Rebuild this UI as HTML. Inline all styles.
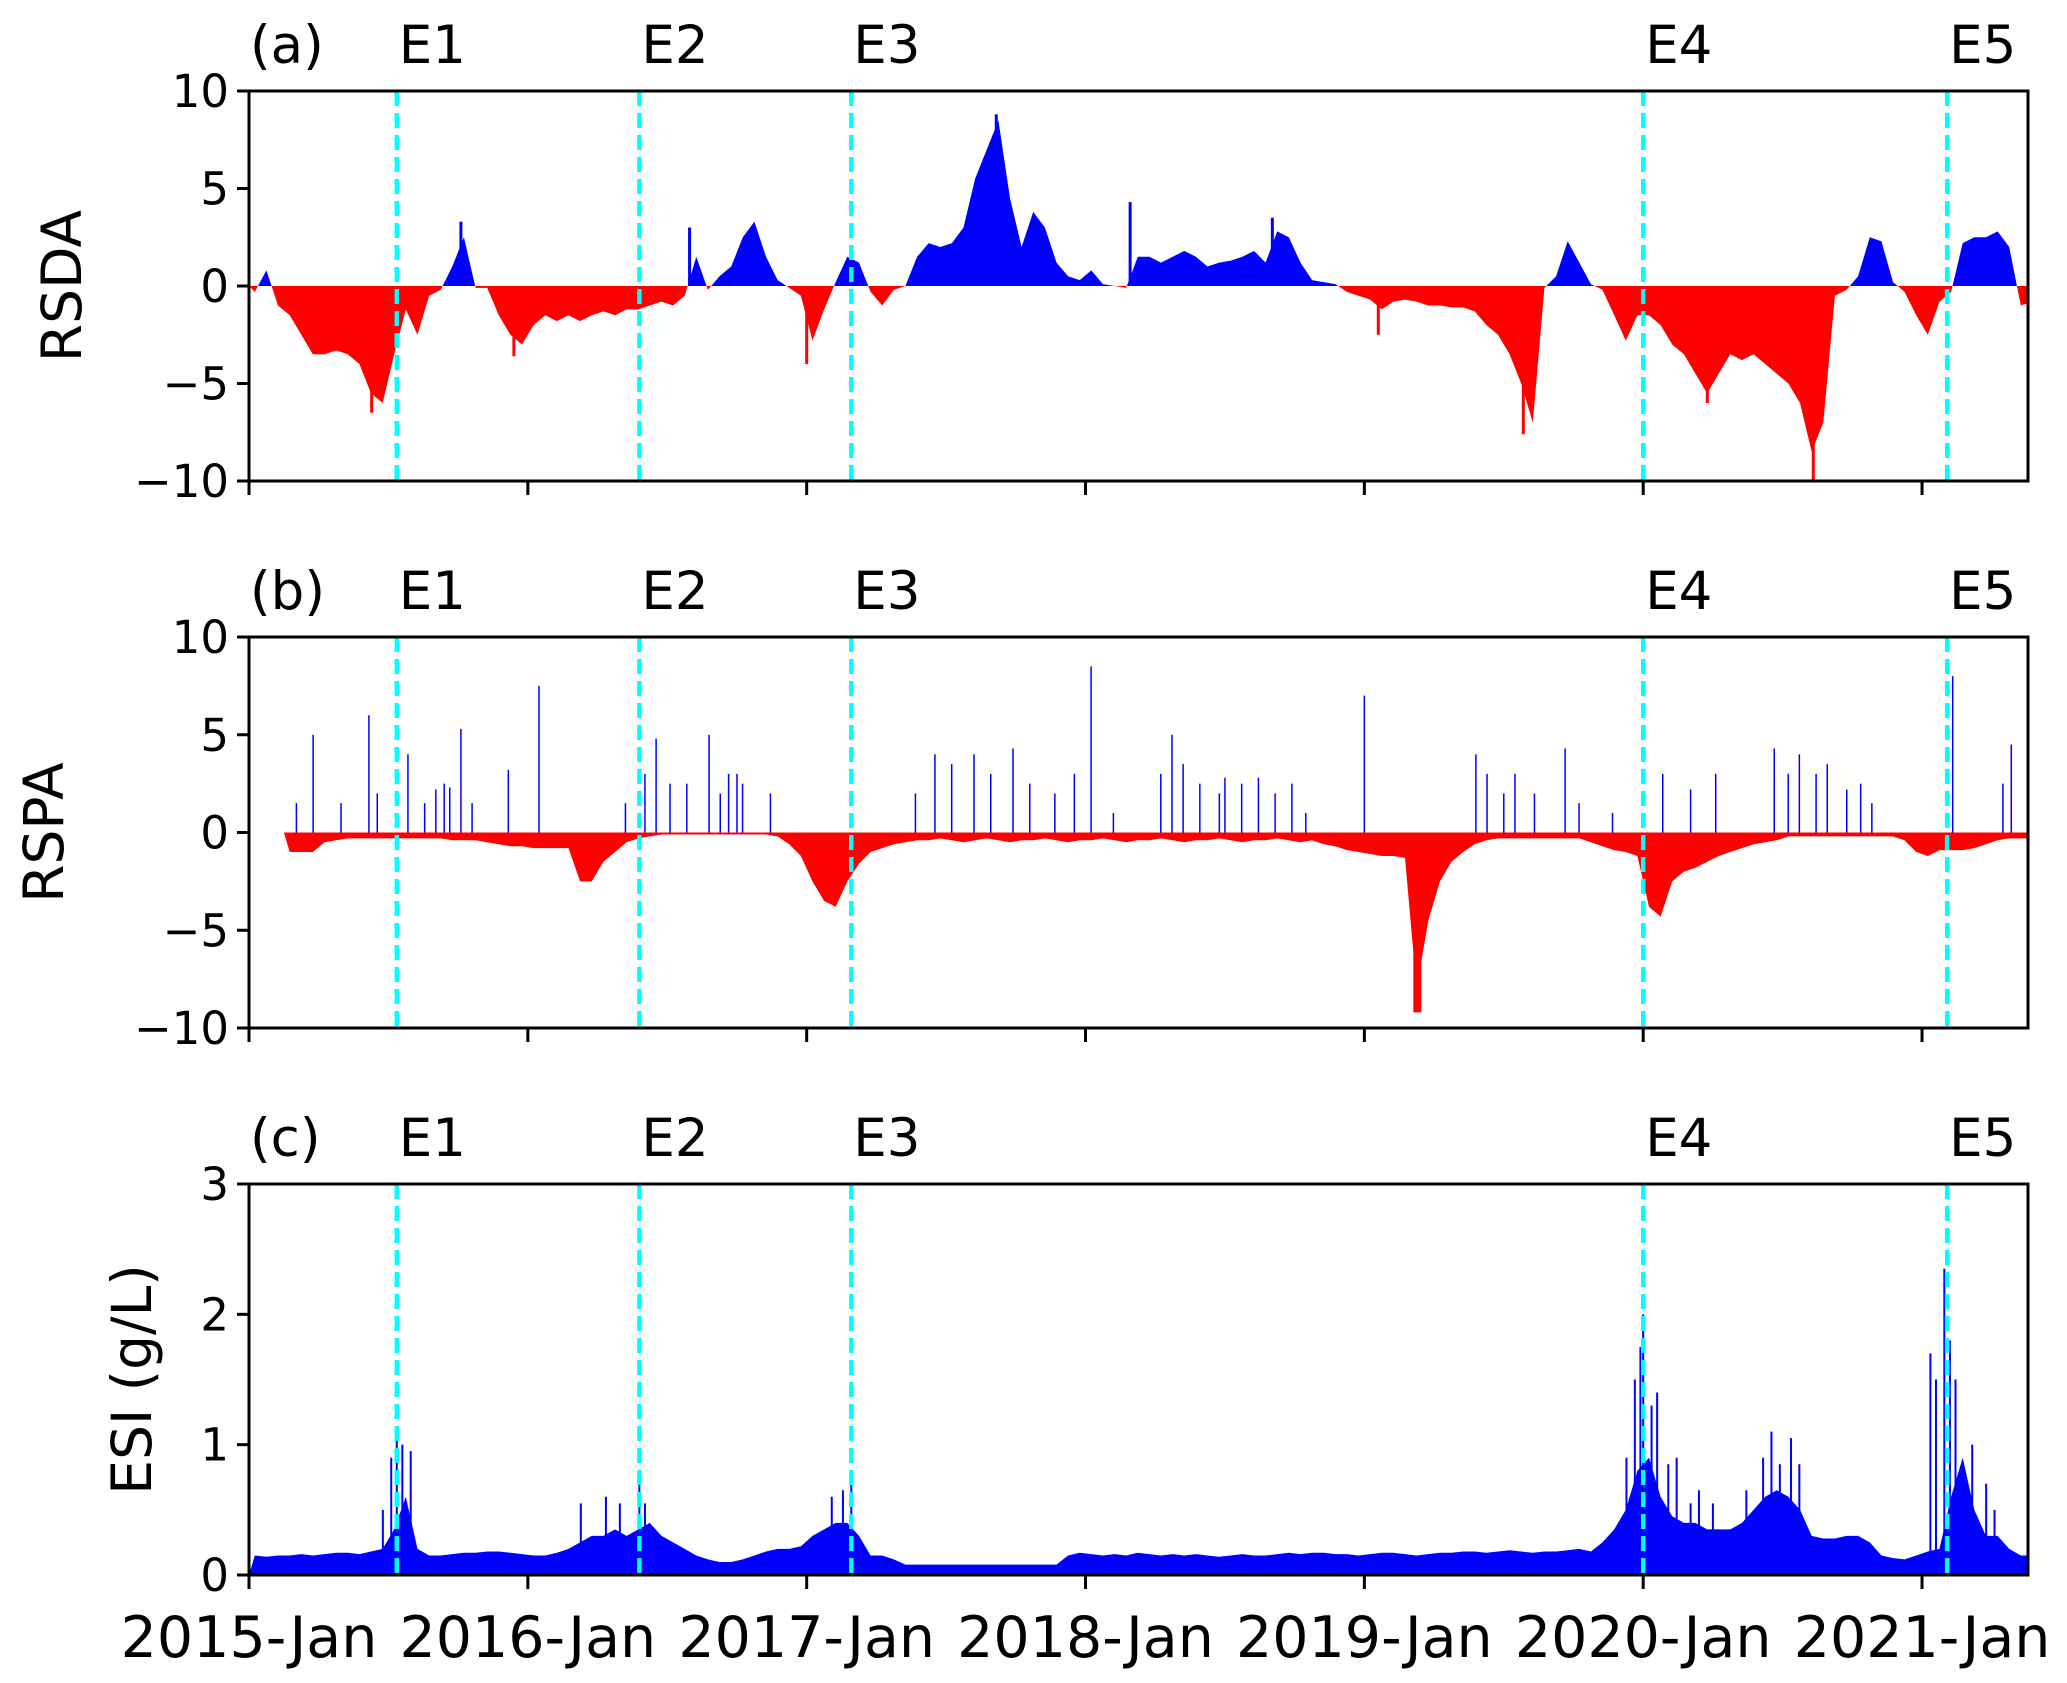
<!DOCTYPE html>
<html><head><meta charset="utf-8"><style>
html,body{margin:0;padding:0;background:#fff;}
svg{display:block;font-family:"DejaVu Sans","Liberation Sans",sans-serif;}
</style></head><body>
<svg id="chart" width="2067" height="1683" viewBox="0 0 2067 1683" xmlns="http://www.w3.org/2000/svg"></svg>
<script>
// ---------- data ----------
const startYear = 2015.0;
const stepYear = 1/24; // half-month sampling
const xTickLabels = ["2015-Jan","2016-Jan","2017-Jan","2018-Jan","2019-Jan","2020-Jan","2021-Jan"];
const xTickYears = [2015,2016,2017,2018,2019,2020,2021];
const eventNames = ["E1","E2","E3","E4","E5"];
const eventYears = [2015.53,2016.40,2017.16,2020.0,2021.09];
const panelLetters = ["(a)","(b)","(c)"];
const yLabels = ["RSDA","RSPA","ESI (g/L)"];
const yTicksAB = [-10,-5,0,5,10];
const yTicksC = [0,1,2,3];

const rsdaValues = [-0.3,0.8,-1,-1.5,-2.5,-3.5,-3.5,-3.3,-3.5,-4,-5.5,-6,-3.5,-1.2,-2.5,-0.5,-0.2,1,2.5,-0.1,
-0.1,-1.5,-2.5,-3,-2,-1.5,-1.8,-1.5,-1.8,-1.5,-1.3,-1.5,-1.2,-1.2,-1,-0.8,-1,-0.5,1.5,-0.2,
0.5,1,2.5,3.3,1.5,0.3,-0.1,-0.5,-2.8,-1.2,0.2,1.5,1.2,-0.3,-1,-0.2,0,1.5,2.2,2,
2.2,3,5.5,7,8.5,4.5,2,3.8,3,1.2,0.5,0.3,0.8,0.1,0,-0.1,1.5,1.5,1.2,1.5,
1.8,1.5,1,1.2,1.3,1.5,1.8,1.2,2.8,2.5,1.2,0.3,0.2,0.1,-0.3,-0.5,-0.7,-1.2,-0.8,-0.7,
-0.8,-1,-1,-1.1,-1.1,-1.3,-2,-2.5,-3.5,-5,-7,-0.1,0.5,2.3,1.2,0.1,-0.2,-1.5,-2.8,-1.5,
-1.5,-2,-3,-3.5,-4.5,-5.5,-4.5,-3.5,-3.8,-3.5,-4,-4.5,-5,-6,-8.5,-7,-0.5,-0.2,0.5,2.5,
2.3,0.2,-0.3,-1.5,-2.5,-0.8,-0.3,2.2,2.5,2.5,2.8,2,-1,-0.8];
const rsdaSpikeYears = [2015.44,2015.76,2015.95,2016.58,2017.0,2017.68,2018.16,2018.67,2019.05,2019.57,2020.23,2020.61,2021.49];
const rsdaSpikeValues = [-6.5,3.3,-3.6,3,-4,8.8,4.3,3.5,-2.5,-7.6,-6,-10,4];

const rspaValues = [0,0,0,-1,-1,-1,-0.5,-0.4,-0.3,-0.3,-0.3,-0.3,-0.3,-0.3,-0.3,-0.3,-0.3,-0.4,-0.4,-0.4,
-0.5,-0.6,-0.7,-0.7,-0.8,-0.8,-0.8,-0.8,-2.5,-2.5,-1.5,-1,-0.5,-0.3,-0.2,-0.1,-0.1,-0.1,-0.1,-0.1,
-0.1,-0.1,-0.1,-0.1,-0.1,-0.2,-0.6,-1.2,-2.5,-3.5,-3.8,-2.5,-1.6,-1,-0.8,-0.6,-0.5,-0.4,-0.4,-0.3,
-0.4,-0.5,-0.4,-0.3,-0.4,-0.5,-0.4,-0.4,-0.3,-0.4,-0.5,-0.4,-0.4,-0.3,-0.4,-0.5,-0.4,-0.4,-0.3,-0.4,
-0.5,-0.4,-0.4,-0.3,-0.4,-0.5,-0.4,-0.4,-0.3,-0.4,-0.5,-0.4,-0.6,-0.7,-0.9,-1,-1.1,-1.2,-1.2,-1.3,
-8,-4.5,-2.5,-1.5,-1,-0.6,-0.4,-0.3,-0.3,-0.3,-0.3,-0.3,-0.3,-0.3,-0.3,-0.5,-0.7,-0.9,-1,-1.2,
-3.8,-4.3,-2.5,-2,-1.8,-1.5,-1.2,-1,-0.8,-0.6,-0.5,-0.4,-0.2,-0.2,-0.2,-0.2,-0.2,-0.2,-0.2,-0.2,
-0.2,-0.2,-0.4,-1,-1.2,-0.9,-0.9,-0.9,-0.8,-0.6,-0.4,-0.3,-0.3,-0.3];
const rspaSpikeYears = [2015.17,2015.23,2015.33,2015.43,2015.46,2015.57,2015.63,2015.67,2015.70,2015.72,2015.76,2015.80,2015.93,2016.04,2016.35,2016.42,2016.46,2016.51,2016.57,2016.65,2016.69,2016.72,2016.75,2016.77,2016.87,2017.39,2017.46,2017.52,2017.60,2017.66,2017.74,2017.80,2017.89,2017.96,2018.02,2018.10,2018.27,2018.31,2018.35,2018.41,2018.48,2018.50,2018.56,2018.62,2018.68,2018.74,2018.79,2019.0,2019.40,2019.44,2019.50,2019.54,2019.61,2019.72,2019.77,2019.89,2020.07,2020.17,2020.26,2020.47,2020.52,2020.56,2020.62,2020.66,2020.73,2020.78,2020.82,2021.11,2021.29,2021.32,2019.19];
const rspaSpikeValues = [1.5,5,1.5,6,2,4,1.5,2.2,2.5,2.3,5.3,1.5,3.2,7.5,1.5,3,4.8,2.5,2.5,5,2,3,3,2.5,2,2,4,3.5,4,3,4.3,2.5,2,3,8.5,1,3,5,3.5,2.5,2,2.8,2.5,2.8,2,2.5,1,7,4,3,2,3,2,4.3,1.5,1,3,2.2,3,4.3,3,4,3,3.5,2.2,2.5,1.5,8,2.5,4.5,-9.2];

const esiValues = [0.15,0.14,0.15,0.15,0.16,0.15,0.16,0.17,0.17,0.16,0.18,0.2,0.35,0.6,0.2,0.15,0.15,0.16,0.17,0.17,
0.18,0.18,0.17,0.16,0.15,0.15,0.17,0.2,0.25,0.3,0.3,0.35,0.3,0.35,0.4,0.3,0.25,0.2,0.15,0.12,
0.1,0.1,0.12,0.15,0.18,0.2,0.2,0.22,0.3,0.35,0.4,0.4,0.3,0.15,0.15,0.12,0.08,0.08,0.08,0.08,
0.08,0.08,0.08,0.08,0.08,0.08,0.08,0.08,0.08,0.08,0.15,0.17,0.16,0.15,0.16,0.15,0.17,0.16,0.15,0.16,
0.15,0.16,0.15,0.14,0.15,0.16,0.15,0.15,0.16,0.17,0.16,0.17,0.17,0.16,0.16,0.15,0.16,0.17,0.17,0.16,
0.15,0.16,0.17,0.17,0.18,0.18,0.17,0.18,0.19,0.18,0.17,0.18,0.18,0.19,0.2,0.18,0.25,0.35,0.5,0.8,
0.9,0.6,0.45,0.4,0.4,0.35,0.35,0.35,0.4,0.5,0.6,0.65,0.6,0.5,0.3,0.28,0.28,0.3,0.3,0.25,
0.15,0.13,0.12,0.15,0.18,0.2,0.6,0.9,0.5,0.3,0.3,0.2,0.15,0.15];
const esiSpikeYears = [2015.48,2015.51,2015.53,2015.55,2015.58,2016.19,2016.28,2016.33,2016.40,2016.42,2017.09,2017.13,2017.16,2019.94,2019.97,2019.99,2020.0,2020.03,2020.05,2020.09,2020.12,2020.17,2020.20,2020.25,2020.37,2020.43,2020.46,2020.49,2020.53,2020.56,2021.03,2021.05,2021.08,2021.10,2021.12,2021.18,2021.23,2021.26];
const esiSpikeValues = [0.5,0.9,1.1,1.0,0.95,0.55,0.6,0.55,0.75,0.55,0.6,0.65,0.75,0.9,1.5,1.75,2.0,1.3,1.4,0.85,0.9,0.55,0.65,0.55,0.65,0.9,1.1,0.85,1.05,0.85,1.7,1.5,2.35,1.8,1.5,1.0,0.7,0.5];

// ---------- layout ----------
const svg = document.getElementById('chart');
const NS = 'http://www.w3.org/2000/svg';
const plotLeft = 249, plotRight = 2028;
const xMin = 2015.0, xMax = 2021.38;
function xScale(yr){ return plotLeft + (yr - xMin) / (xMax - xMin) * (plotRight - plotLeft); }
const panels = [
  {top:91, bottom:481, yMin:-10, yMax:10, ticks:yTicksAB, values:rsdaValues, sY:rsdaSpikeYears, sV:rsdaSpikeValues, name:'rsda', labelX:62, spikeW:3},
  {top:637, bottom:1028, yMin:-10, yMax:10, ticks:yTicksAB, values:rspaValues, sY:rspaSpikeYears, sV:rspaSpikeValues, name:'rspa', labelX:44, spikeW:1.5},
  {top:1184, bottom:1575, yMin:0, yMax:3, ticks:yTicksC, values:esiValues, sY:esiSpikeYears, sV:esiSpikeValues, name:'esi', labelX:132, spikeW:2}
];
function mk(tag, attrs, parent){
  const e = document.createElementNS(NS, tag);
  for (const k in attrs) e.setAttribute(k, attrs[k]);
  (parent || svg).appendChild(e);
  return e;
}

panels.forEach((p, pi) => {
  const yScale = v => p.bottom - (v - p.yMin) / (p.yMax - p.yMin) * (p.bottom - p.top);
  const g = mk('g', {});
  
  
  const clipId = 'clip' + pi;
  const cp = mk('clipPath', {id: clipId}, g);
  mk('rect', {x: plotLeft, y: p.top, width: plotRight - plotLeft, height: p.bottom - p.top}, cp);
  const y0 = yScale(Math.max(0, p.yMin));
  // area path (linear between half-month samples)
  const firstNZ = p.values.findIndex(v => v !== 0);
  const startIdx = Math.max(0, firstNZ);
  let d = 'M' + xScale(startYear + startIdx * stepYear).toFixed(1) + ',' + y0.toFixed(1);
  p.values.forEach((v, i) => {
    if (i < startIdx) return;
    const x1 = xScale(startYear + (i + 0.5) * stepYear);
    d += 'L' + x1.toFixed(1) + ',' + yScale(v).toFixed(1);
  });
  const last = p.values[p.values.length - 1];
  d += 'L' + xScale(startYear + p.values.length * stepYear).toFixed(1) + ',' + yScale(last).toFixed(1);
  d += 'L' + xScale(startYear + p.values.length * stepYear).toFixed(1) + ',' + y0.toFixed(1) + 'Z';
  const cpPos = mk('clipPath', {id: clipId + 'p'}, g);
  mk('rect', {x: plotLeft, y: p.top, width: plotRight - plotLeft, height: y0 - p.top}, cpPos);
  const cpNeg = mk('clipPath', {id: clipId + 'n'}, g);
  mk('rect', {x: plotLeft, y: y0, width: plotRight - plotLeft, height: Math.max(0, p.bottom - y0)}, cpNeg);
  const gc = mk('g', {'clip-path': 'url(#' + clipId + ')'}, g);
  const pos = mk('path', {d: d, fill: '#0000ff', 'clip-path': 'url(#' + clipId + 'p)'}, gc);
  
  
  const neg = mk('path', {d: d, fill: '#ff0000', 'clip-path': 'url(#' + clipId + 'n)'}, gc);
  
  
  // spikes
  p.sY.forEach((yr, i) => {
    const v = p.sV[i];
    const ln = mk('line', {x1: xScale(yr), x2: xScale(yr), y1: y0, y2: yScale(v), stroke: v >= 0 ? '#0000ff' : '#ff0000', 'stroke-width': v < -5 && pi === 1 ? 8 : p.spikeW}, gc);
    
    
  });
  // event lines and labels
  eventYears.forEach((yr, i) => {
    const x = xScale(yr);
    const el = mk('line', {x1: x, x2: x, y1: p.top, y2: p.bottom, stroke: '#00ffff', 'stroke-width': 4.5, 'stroke-dasharray': '15,7'}, g);
    
    
    const t = mk('text', {x: x + 2, y: p.top - 28, 'font-size': 53, fill: '#000'}, g);
    t.textContent = eventNames[i];
    
    
  });
  const lt = mk('text', {x: 250, y: p.top - 28, 'font-size': 53, fill: '#000'}, g);
  lt.textContent = panelLetters[pi];
  
  
  // frame
  const fr = mk('rect', {x: plotLeft, y: p.top, width: plotRight - plotLeft, height: p.bottom - p.top, fill: 'none', stroke: '#000', 'stroke-width': 3}, g);
  
  
  // y ticks
  p.ticks.forEach(v => {
    const y = yScale(v);
    mk('line', {x1: plotLeft - 12, x2: plotLeft, y1: y, y2: y, stroke: '#000', 'stroke-width': 3}, g);
    const t = mk('text', {x: plotLeft - 20, y: y + 16, 'font-size': 45, 'text-anchor': 'end', fill: '#000'}, g);
    t.textContent = v < 0 ? '\u2212' + Math.abs(v) : String(v);
    
    
  });
  const yl = mk('text', {x: p.labelX, y: (p.top + p.bottom) / 2, 'font-size': 55, 'text-anchor': 'middle', 'dominant-baseline': 'central', fill: '#000', transform: 'rotate(-90 ' + p.labelX + ' ' + ((p.top + p.bottom) / 2) + ')'}, g);
  yl.textContent = yLabels[pi];
  
  
  // x ticks
  xTickYears.forEach((yr, i) => {
    const x = xScale(yr);
    mk('line', {x1: x, x2: x, y1: p.bottom, y2: p.bottom + 14, stroke: '#000', 'stroke-width': 3}, g);
    if (pi === 2) {
      const t = mk('text', {x: x, y: p.bottom + 82, 'font-size': 57, 'text-anchor': 'middle', fill: '#000'}, g);
      t.textContent = xTickLabels[i];
      
      
    }
  });
});
</script>
</body></html>
